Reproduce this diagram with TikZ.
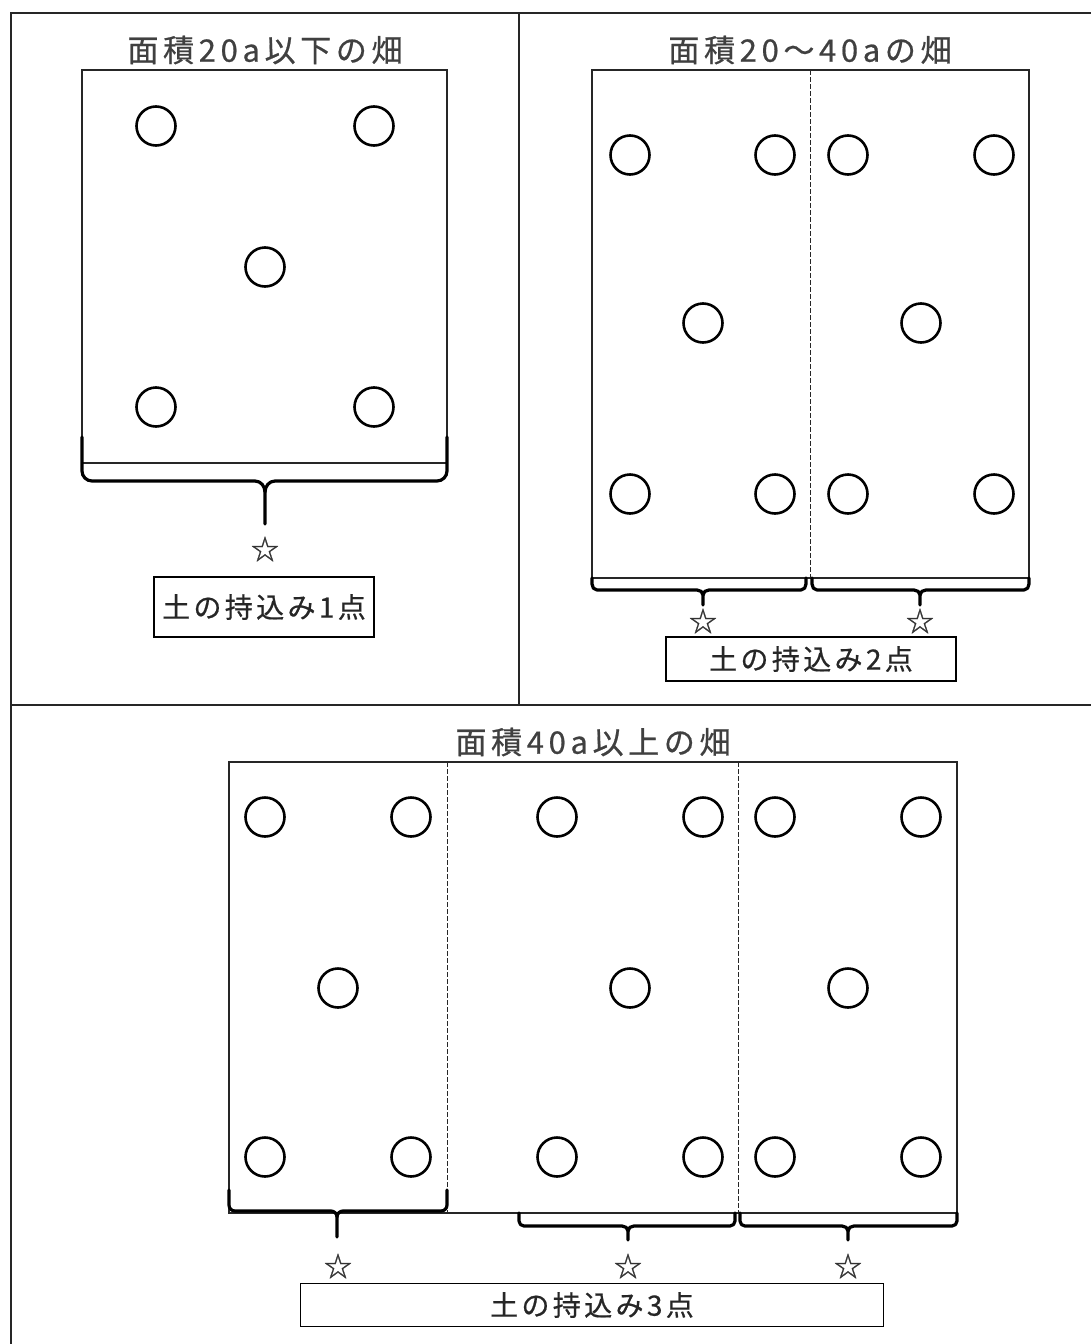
\documentclass[tikz,border=0pt]{standalone}
\usepackage{fontspec}
\setmainfont{Noto Sans CJK JP}
\newfontfamily\labelfont[LetterSpace=12,FakeBold=0.6]{Noto Sans CJK JP}
\newfontfamily\titlefont[LetterSpace=15,FakeBold=0.6]{Noto Sans CJK JP}
\newfontfamily\starfont[FakeBold=0.8]{Noto Sans CJK JP}
\begin{document}
\begin{tikzpicture}[x=1pt,y=-1pt,
  frame/.style={line width=1.5pt,black!85},
  field/.style={line width=1.6pt,black!85},
  divider/.style={line width=1pt,dashed,dash pattern=on 5pt off 2pt,black!85},
  plot/.style={circle,draw,line width=2.6pt,minimum size=39pt,inner sep=0pt},
  brace/.style={line width=3.2pt,line join=round,line cap=round},
  title/.style={font=\titlefont\fontsize{31}{34}\selectfont,text=black!75},
  starmark/.style={font=\starfont\fontsize{28}{30}\selectfont,inner sep=0pt,text=black!80},
  labelbox/.style={draw,line width=1.5pt,inner sep=0pt,font=\labelfont\fontsize{28}{30}\selectfont,text=black!85}]
\useasboundingbox (0,0) rectangle (1091,1344);
\fill[white] (0,0) rectangle (1091,1344);
% outer frame
\draw[frame] (11,1344) -- (11,13) -- (1091,13);
\draw[frame] (11,705) -- (1091,705);
\draw[frame] (519,13) -- (519,705);

% ---------- top left ----------
\node[title] (t1) at (265,50) {面積20a以下の畑};
\draw[field] (82,463) -- (82,70) -- (447,70) -- (447,463) -- cycle;
\node[plot] (a1) at (156,126) {};
\node[plot] (a2) at (374,126) {};
\node[plot] (a3) at (265,267) {};
\node[plot] (a4) at (156,407) {};
\node[plot] (a5) at (374,407) {};
\draw[brace] (82,437) -- (82,471) to[out=-90,in=180] (92,481) -- (255,481) to[out=0,in=90] (265,492) -- (265,524);
\draw[brace] (265,492) to[out=90,in=180] (275,481) -- (437,481) to[out=0,in=-90] (447,471) -- (447,437);
\node[starmark] (s1) at (265,549) {☆};
\node[labelbox,minimum width=220pt,minimum height=60pt] (b1) at (264,607) {土の持込み1点};

% ---------- top right ----------
\node[title] (t2) at (810,50) {面積20～40aの畑};
\draw[field] (592,578) -- (592,70) -- (1029,70) -- (1029,578) -- cycle;
\draw[divider] (810,70) -- (810,578);
\foreach \n/\x/\y in {c1/630/155,c2/775/155,c3/848/155,c4/994/155,c5/703/323,c6/921/323,c7/630/494,c8/775/494,c9/848/494,c10/994/494}
  \node[plot] (\n) at (\x,\y) {};
\draw[brace] (592,578) -- (592,584) to[out=-90,in=180] (597,590) -- (697,590) to[out=0,in=90] (703,595) -- (703,605);
\draw[brace] (703,595) to[out=90,in=180] (709,590) -- (801,590) to[out=0,in=-90] (806,584) -- (806,578);
\draw[brace] (812,578) -- (812,584) to[out=-90,in=180] (817,590) -- (914,590) to[out=0,in=90] (920,595) -- (920,605);
\draw[brace] (920,595) to[out=90,in=180] (926,590) -- (1024,590) to[out=0,in=-90] (1029,584) -- (1029,578);
\node[starmark] (s2) at (703,621) {☆};
\node[starmark] (s3) at (920,621) {☆};
\node[labelbox,minimum width=290pt,minimum height=44pt] (b2) at (811,659) {土の持込み2点};

% ---------- bottom ----------
\node[title] (t3) at (593,742) {面積40a以上の畑};
\draw[field] (229,1213) -- (229,762) -- (957,762) -- (957,1213) -- cycle;
\draw[divider] (447,762) -- (447,1213);
\draw[divider] (738,762) -- (738,1213);
\foreach \n/\x/\y in {d1/265/817,d2/411/817,d3/557/817,d4/703/817,d5/775/817,d6/921/817,
  d7/338/988,d8/630/988,d9/848/988,
  d10/265/1157,d11/411/1157,d12/557/1157,d13/703/1157,d14/775/1157,d15/921/1157}
  \node[plot] (\n) at (\x,\y) {};
\draw[brace] (229,1190) -- (229,1205) to[out=-90,in=180] (235,1211) -- (331,1211) to[out=0,in=90] (337,1217) -- (337,1237);
\draw[brace] (337,1217) to[out=90,in=180] (343,1211) -- (441,1211) to[out=0,in=-90] (447,1205) -- (447,1190);
\draw[brace] (519,1213) -- (519,1221) to[out=-90,in=180] (524,1226) -- (622,1226) to[out=0,in=90] (628,1231) -- (628,1240);
\draw[brace] (628,1231) to[out=90,in=180] (634,1226) -- (730,1226) to[out=0,in=-90] (735,1221) -- (735,1213);
\draw[brace] (740,1213) -- (740,1221) to[out=-90,in=180] (745,1226) -- (842,1226) to[out=0,in=90] (848,1231) -- (848,1240);
\draw[brace] (848,1231) to[out=90,in=180] (854,1226) -- (952,1226) to[out=0,in=-90] (957,1221) -- (957,1213);
\node[starmark] (s4) at (338,1266) {☆};
\node[starmark] (s5) at (628,1266) {☆};
\node[starmark] (s6) at (848,1266) {☆};
\node[labelbox,minimum width=583pt,minimum height=43pt] (b3) at (592,1305) {土の持込み3点};
\end{tikzpicture}
\end{document}
